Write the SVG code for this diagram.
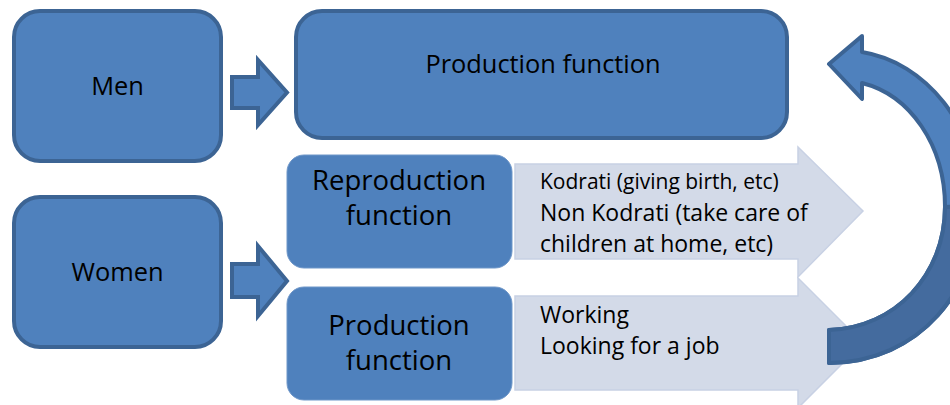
<svg xmlns="http://www.w3.org/2000/svg" width="950" height="405" viewBox="0 0 950 405">
  <style>
    .box { fill: #4F81BD; stroke: #3C6494; stroke-width: 4; }
    .sub { fill: #4F81BD; stroke: #6F97C9; stroke-width: 1; }
    .blk { fill: #4F81BD; stroke: #3C6494; stroke-width: 4; stroke-linejoin: miter; }
    .pale { fill: #D3DAE8; stroke: #C8D1E4; stroke-width: 1.5; }
    .curve { fill: #4F81BD; stroke: #3C6494; stroke-width: 4; stroke-linejoin: round; }
    .curve-back { fill: #446B9E; stroke: #3C6494; stroke-width: 4; stroke-linejoin: round; }
    text { font-family: "Open Sans", "Noto Sans", sans-serif; fill: #000; }
    .big { font-size: 25.4px; text-anchor: middle; }
    .mid { font-size: 27.5px; text-anchor: middle; }
    .sm1 { font-size: 21px; }
    .sm2 { font-size: 23px; }
  </style>

  <!-- light detail arrows behind the text lists -->
  <g id="detail-reproduction">
    <path class="pale" d="M515 164 H798 V147 L863 211 L798 277 V259 H515 Z"/>
    <text class="sm1" x="540" y="189">Kodrati (giving birth, etc)</text>
    <text class="sm2" x="540" y="221">Non Kodrati (take care of</text>
    <text class="sm2" x="540" y="252">children at home, etc)</text>
  </g>
  <g id="detail-production">
    <path class="pale" d="M515 296 H798 V278 L863 343 L798 408 V390 H515 Z"/>
    <text class="sm2" x="540" y="323">Working</text>
    <text class="sm2" x="540" y="354">Looking for a job</text>
  </g>

  <g id="men">
    <rect class="box" x="14" y="11" width="207" height="150" rx="26"/>
    <text class="big" x="117.5" y="95">Men</text>
  </g>
  <g id="women">
    <rect class="box" x="14" y="197" width="207" height="150" rx="26"/>
    <text class="big" x="117.5" y="281">Women</text>
  </g>
  <g id="production-men">
    <rect class="box" x="296" y="11" width="491" height="127" rx="26"/>
    <text class="big" x="543" y="73">Production function</text>
  </g>
  <g id="reproduction-women">
    <rect class="sub" x="287" y="155" width="225" height="113" rx="17"/>
    <text class="mid" x="399" y="190">Reproduction</text>
    <text class="mid" x="399" y="225">function</text>
  </g>
  <g id="production-women">
    <rect class="sub" x="287" y="287" width="225" height="113" rx="17"/>
    <text class="mid" x="399" y="335">Production</text>
    <text class="mid" x="399" y="370">function</text>
  </g>

  <g id="connectors">
    <!-- block arrows from the groups to their functions -->
    <path class="blk" d="M232 77 H258 V60 L287 92.5 L258 125 V108 H232 Z"/>
    <path class="blk" d="M232 264 H258 V246 L287 281 L258 316 V297 H232 Z"/>
    <!-- curved feedback arrow back to the top production box -->
    <path class="curve" d="M862 83 C910 95 945 145 945 207 C945 275 895 328 829 330 L829 363 C920 362 978 290 978 205 C978 125 925 62 862 52 V36 L829 64 L862 99 Z"/>
    <path class="curve-back" d="M829 330 C895 328 945 275 945 207 L978 205 C978 290 920 362 829 363 Z"/>
  </g>
</svg>
